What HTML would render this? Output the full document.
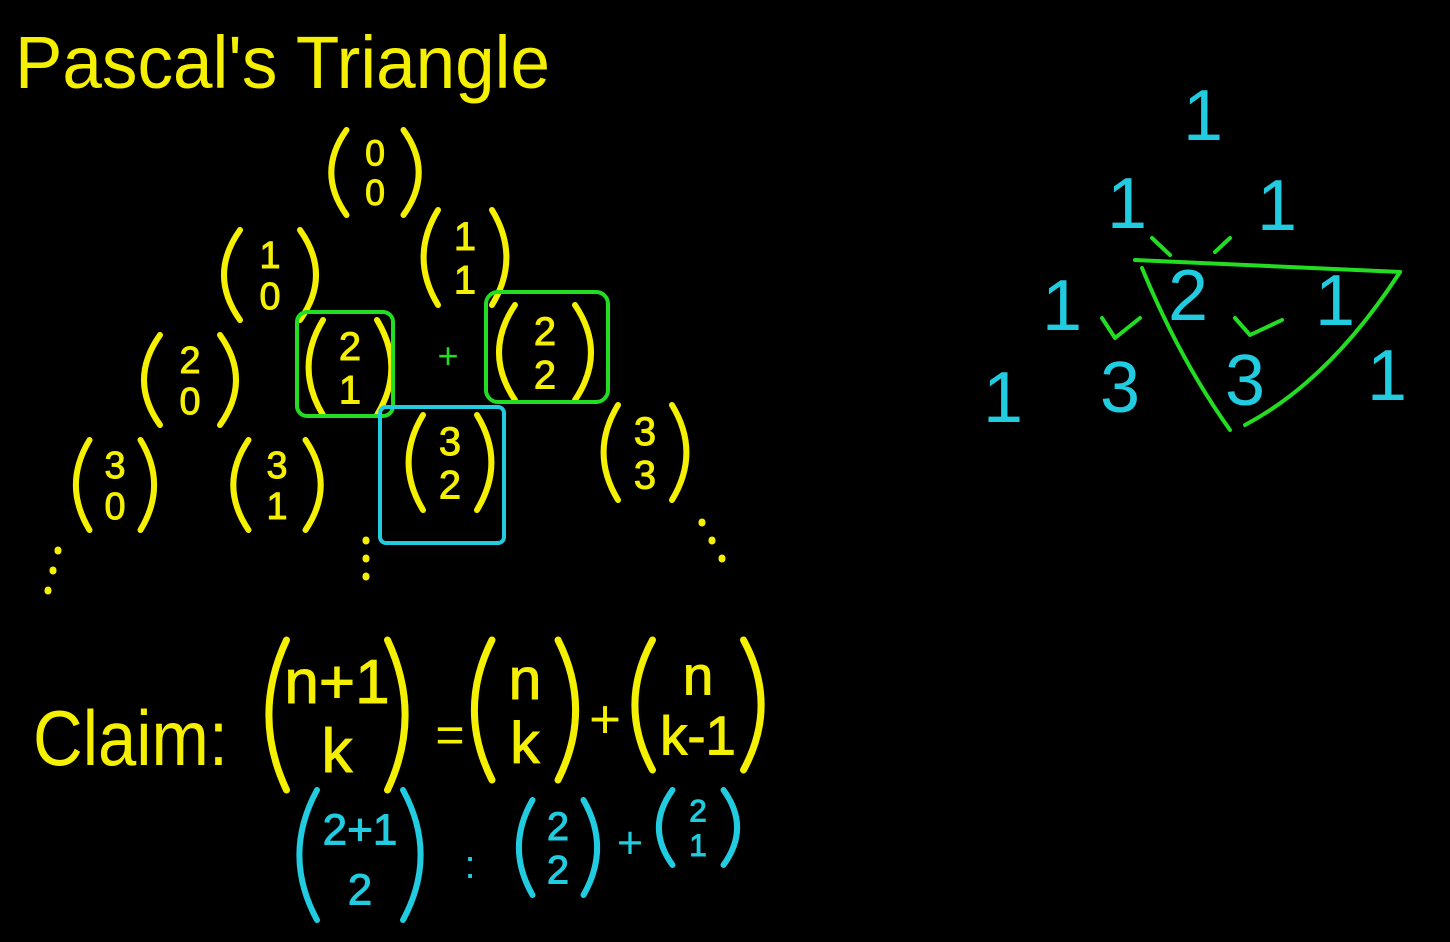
<!DOCTYPE html>
<html><head><meta charset="utf-8"><style>
html,body{margin:0;padding:0;background:#000;width:1450px;height:942px;overflow:hidden}
svg{display:block}
text{font-family:"Liberation Sans",sans-serif}
</style></head><body>
<svg id="board" width="1450" height="942" viewBox="0 0 1450 942">
<rect width="1450" height="942" fill="#000"/>
<text x="15" y="88" font-size="74" fill="#f4f000" textLength="535" lengthAdjust="spacingAndGlyphs">Pascal's Triangle</text>
<g id="binoms"></g>
<g id="marks" fill="none" stroke-linecap="round" stroke-linejoin="round">
 <rect x="297" y="312" width="96" height="104" rx="10" stroke="#22dd22" stroke-width="4"/>
 <rect x="486" y="292" width="122" height="110" rx="12" stroke="#22dd22" stroke-width="4"/>
 <rect x="380" y="407" width="124" height="136" rx="6" stroke="#22cce0" stroke-width="4"/>
 <path d="M1135 260 L1400 272" stroke="#22dd22" stroke-width="4"/>
 <path d="M1142 268 Q1180 360 1230 430" stroke="#22dd22" stroke-width="4"/>
 <path d="M1400 272 Q1330 380 1245 425" stroke="#22dd22" stroke-width="4"/>
 <path d="M1102 318 L1115 338 L1140 318" stroke="#22dd22" stroke-width="4"/>
 <path d="M1235 318 L1250 335 L1282 320" stroke="#22dd22" stroke-width="4"/>
 <path d="M1152 238 L1170 255 M1215 252 L1230 238" stroke="#22dd22" stroke-width="4"/>
 <g stroke="#f4f000" stroke-width="7">
  <path d="M48 590 L48 591 M53 570 L53 571 M58 550 L58 551"/>
  <path d="M366 540 L366 541 M366 558 L366 559 M366 576 L366 577"/>
  <path d="M702 522 L702 523 M712 540 L712 541 M722 558 L722 559"/>
 </g>
</g>
<text x="448" y="368" font-size="36" fill="#22dd22" text-anchor="middle">+</text>
<text x="33" y="765" font-size="78" fill="#f4f000" textLength="195" lengthAdjust="spacingAndGlyphs">Claim:</text>
<text x="450" y="752" font-size="50" fill="#f4f000" text-anchor="middle">=</text>
<text x="605" y="738" font-size="55" fill="#f4f000" text-anchor="middle">+</text>
<text x="470" y="878" font-size="40" fill="#22cce0" text-anchor="middle">:</text>
<text x="630" y="858" font-size="45" fill="#22cce0" text-anchor="middle">+</text>
<g id="right" fill="#22cce0" font-size="72" text-anchor="middle"></g>
</svg>
<script>
const NS='http://www.w3.org/2000/svg';
const binTop=['0','1','1','2','2','2','3','3','3','3','n+1','n','n','2+1','2','2'];
const binBot=['0','0','1','0','1','2','0','1','2','3','k','k','k-1','2','2','1'];
const geo=[[375,130,215],[270,230,320],[465,210,305],[190,335,425],[350,320,415],[545,305,400],[115,440,530],[277,440,530],[450,415,510],[645,405,500],[337,640,790],[525,640,780],[698,640,770],[360,790,920],[558,800,895],[698,790,865]];
const widths=[95,100,90,100,90,100,85,95,90,90,145,110,135,130,85,85];
const g=document.getElementById('binoms');
geo.forEach((p,i)=>{
  const [cx,y1,y2]=p, w=widths[i], h=y2-y1, col=i>=13?'#22cce0':'#f4f000';
  const grp=document.createElementNS(NS,'g');
  
  
  const l=cx-w/2, r=cx+w/2, bow=Math.min(22,w*0.2);
  const path=document.createElementNS(NS,'path');
  path.setAttribute('d',`M${l+bow} ${y1} Q${l-bow*0.6} ${(y1+y2)/2} ${l+bow} ${y2} M${r-bow} ${y1} Q${r+bow*0.6} ${(y1+y2)/2} ${r-bow} ${y2}`);
  path.setAttribute('fill','none');path.setAttribute('stroke',col);path.setAttribute('stroke-width',i>=10&&i<13?7:6);path.setAttribute('stroke-linecap','round');
  grp.appendChild(path);
  const fs=Math.min(h*0.42,i>=10&&i<13?62:44);
  [[binTop[i],y1+h*0.42],[binBot[i],y1+h*0.88]].forEach(([t,y])=>{
    const tx=document.createElementNS(NS,'text');
    tx.setAttribute('x',cx);tx.setAttribute('y',y);tx.setAttribute('text-anchor','middle');
    tx.setAttribute('font-size',fs);tx.setAttribute('fill',col);tx.setAttribute('stroke',col);tx.setAttribute('stroke-width','1');tx.textContent=t;
    grp.appendChild(tx);
  });
  g.appendChild(grp);
});
const rv=['1','1','1','1','2','1','1','3','3','1'];
const rp=[[1203,140],[1127,228],[1277,230],[1062,330],[1188,320],[1335,325],[1003,422],[1120,412],[1245,405],[1387,400]];
const R=document.getElementById('right');
rv.forEach((v,i)=>{
  const t=document.createElementNS(NS,'text');
  
  
  t.setAttribute('x',rp[i][0]);t.setAttribute('y',rp[i][1]);t.textContent=v;
  R.appendChild(t);
});
</script>
</body></html>
